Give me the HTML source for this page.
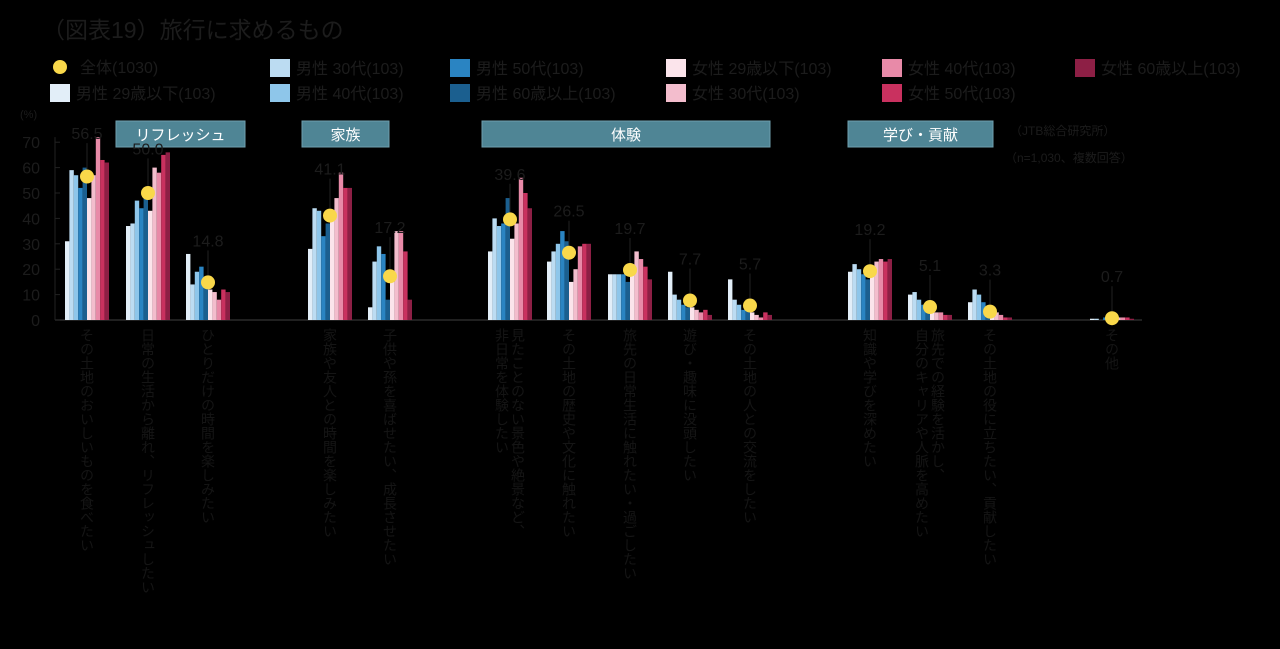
<!DOCTYPE html>
<html><head><meta charset="utf-8">
<style>
body{margin:0;background:#000;width:1280px;height:649px;overflow:hidden;font-family:"Liberation Sans","Noto Sans CJK JP",sans-serif;}
svg{display:block}
</style></head>
<body>
<svg id="chart" width="1280" height="649" xmlns="http://www.w3.org/2000/svg">
<text x="42" y="38" font-size="23" fill="#1c1c1c" font-family="Liberation Sans, Noto Sans CJK JP, sans-serif">（図表19）旅行に求めるもの</text>
<g id="legend"></g>
<g id="axis"></g>
<g id="boxes"></g>
<text x="1010" y="135" font-size="12" fill="#1c1c1c">（JTB総合研究所）</text>
<text x="1005" y="162" font-size="12" fill="#1c1c1c">（n=1,030、複数回答）</text>
<g id="bars"></g>
<g id="labels"></g>
</svg>
<script>
const categories=["その土地のおいしいものを食べたい","日常の生活から離れ、リフレッシュしたい","ひとりだけの時間を楽しみたい","家族や友人との時間を楽しみたい","子供や孫を喜ばせたい、成長させたい","見たことのない景色や絶景など、|非日常を体験したい","その土地の歴史や文化に触れたい","旅先の日常生活に触れたい・過ごしたい","遊び・趣味に没頭したい","その土地の人との交流をしたい","知識や学びを深めたい","旅先での経験を活かし、|自分のキャリアや人脈を高めたい","その土地の役に立ちたい、貢献したい","その他"];
const groupX=[87,148,208,330,390,510,569,630,690,750,870,930,990,1112];
const totals=[56.5,50.0,14.8,41.1,17.2,39.6,26.5,19.7,7.7,5.7,19.2,5.1,3.3,0.7];
const seriesNames=["男性 29歳以下(103)","男性 30代(103)","男性 40代(103)","男性 50代(103)","男性 60歳以上(103)","女性 29歳以下(103)","女性 30代(103)","女性 40代(103)","女性 50代(103)","女性 60歳以上(103)"];
const m29=[31,37,26,28,5,27,23,18,19,16,19,10,7,0.5];
const m30=[59,38,14,44,23,40,27,18,10,8,22,11,12,0.5];
const m40=[57,47,19,43,29,37,30,18,8,6,20,8,10,0];
const m50=[52,44,21,33,26,38,35,18,6,4,18,6,7,1];
const m60=[60,48,17,38,8,48,31,15,5,5,16,5,5,0.5];
const f29=[48,43,12,43,15,32,15,21,5,3,20,4,4,1];
const f30=[57,60,11,48,35,38,20,27,4,2,23,3,3,1];
const f40=[72,58,8,58,35,56,29,24,3,1,24,3,2,1];
const f50=[63,65,12,52,27,50,30,21,4,3,23,2,1,1];
const f60=[62,66,11,52,8,44,30,16,2,2,24,2,1,0.5];
const series=[m29,m30,m40,m50,m60,f29,f30,f40,f50,f60];
const colors=["#e2eef8","#bcdcf2","#8ec6ea","#2a84c2","#1b5f8f","#fbe4eb","#f3bdcd","#e88aa8","#c9315f","#8d1f45"];
const yTicks=[0,10,20,30,40,50,60,70];
const NS="http://www.w3.org/2000/svg";
const TXT="#1c1c1c";
const y=v=>320-v*2.54;
function mk(tag,attrs,parent){const e=document.createElementNS(NS,tag);for(const k in attrs)e.setAttribute(k,attrs[k]);parent.appendChild(e);return e;}
const ax=document.getElementById('axis');
mk('line',{x1:55,y1:y(72),x2:55,y2:320,stroke:'#222'},ax);
mk('line',{x1:55,y1:320,x2:1142,y2:320,stroke:'#2a2a2a','stroke-width':1.5},ax);
const tu=mk('text',{x:20,y:118,'font-size':11,fill:TXT},ax);tu.textContent='(%)';


yTicks.forEach(t=>{
 const tx=mk('text',{x:40,y:y(t)+6,'font-size':16,fill:TXT,'text-anchor':'end'},ax);tx.textContent=t;
 
 
 mk('line',{x1:55,y1:y(t),x2:60,y2:y(t),stroke:'#222'},ax);
});
const bx=document.getElementById('boxes');
[["リフレッシュ",116,245],["家族",302,389],["体験",482,770],["学び・貢献",848,993]].forEach(b=>{
 const r=mk('rect',{x:b[1],y:121,width:b[2]-b[1],height:26,fill:'#4f8595',stroke:'#6fa0ae'},bx);
 
 
 const t=mk('text',{x:(b[1]+b[2])/2,y:140,'font-size':15,fill:'#fff','text-anchor':'middle'},bx);t.textContent=b[0];
 
 
});
const g=document.getElementById('bars');
const bw=4.4;
groupX.forEach((cx,i)=>{
 const x0=cx-bw*5;
 series.forEach((s,j)=>{
  const r=mk('rect',{x:x0+j*bw,y:y(s[i]),width:bw,height:320-y(s[i]),fill:colors[j]},g);
  
  
 });
 const ly=Math.min(y(totals[i])-36,y(Math.max(...series.map(s=>s[i])))+2);
 mk('line',{x1:cx,y1:ly+4,x2:cx,y2:y(totals[i]),stroke:'#222'},g);
 const t=mk('text',{x:cx,y:ly,'font-size':16,fill:TXT,'text-anchor':'middle'},g);t.textContent=totals[i].toFixed(1);
 
 
 const c=mk('circle',{cx:cx,cy:y(totals[i]),r:7,fill:'#f9d84a'},g);
 
 
});
const lb=document.getElementById('labels');
groupX.forEach((cx,i)=>{
 const parts=categories[i].split('|');
 parts.forEach((p,k)=>{
  const t=mk('text',{x:cx+(parts.length>1?(k===0?8:-8):0),y:328,'font-size':14,fill:'#151515','writing-mode':'tb','glyph-orientation-vertical':0},lb);t.textContent=p;
  
  
 });
});
const lg=document.getElementById('legend');
const lc=mk('circle',{cx:60,cy:67,r:7,fill:'#f9d84a'},lg);


const lt=mk('text',{x:80,y:73,'font-size':16,fill:TXT},lg);lt.textContent='全体(1030)';


const pos=[[48,93],[268,68],[268,93],[448,68],[448,93],[664,68],[664,93],[880,68],[880,93],[1073,68]];
seriesNames.forEach((n,j)=>{
 const [px,py]=pos[j];
 const r=mk('rect',{x:px+2,y:py-9,width:20,height:18,fill:colors[j]},lg);
 
 
 const t=mk('text',{x:px+28,y:py+6,'font-size':16,fill:TXT},lg);t.textContent=n;
 
 
});
</script>
</body></html>
